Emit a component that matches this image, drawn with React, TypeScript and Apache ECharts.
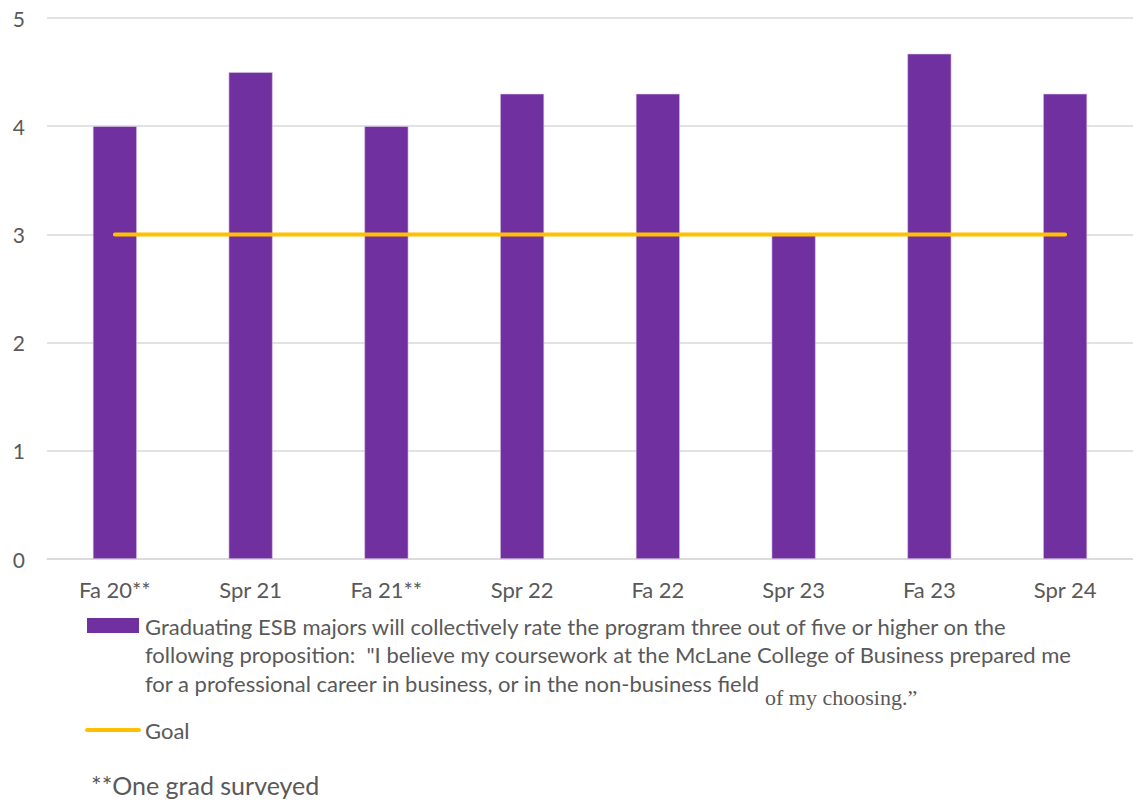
import React, { useEffect, useRef } from "react";
import * as echarts from "echarts";

const categories = ["Fa 20**", "Spr 21", "Fa 21**", "Spr 22", "Fa 22", "Spr 23", "Fa 23", "Spr 24"];
const ratings = [4.0, 4.5, 4.0, 4.3, 4.3, 3.0, 4.67, 4.3];
const goal = [3, 3, 3, 3, 3, 3, 3, 3];
const yTicks = { min: 0, max: 5, interval: 1 };

const legendLines = [
  "Graduating ESB majors will collectively rate the program three out of five or higher on the",
  "following proposition:  \"I believe my coursework at the McLane College of Business prepared me",
  "for a professional career in business, or in the non-business field",
];
const legendTail = "of my choosing.\u201D";
const goalLabel = "Goal";
const footnote = "**One grad surveyed";

const PURPLE = "#7030A0";
const GOLD = "#FFC000";
const TEXT = "#595959";
const SANS = "Lato, 'Open Sans', sans-serif";

export default function App() {
  const ref = useRef<HTMLDivElement>(null);

  useEffect(() => {
    if (!ref.current) return;
    const chart = echarts.init(ref.current, null, { renderer: "svg" });
    const textStyle = { fill: TEXT, font: `22px ${SANS}` };
    chart.setOption({
      animation: false,
      grid: { left: 47, top: 18, width: 1091, height: 541, containLabel: false },
      xAxis: {
        type: "category",
        data: categories,
        boundaryGap: true,
        axisLine: { show: true, lineStyle: { color: "#D9D9D9", width: 1.5 } },
        axisTick: { show: false },
        axisLabel: { color: TEXT, fontSize: 22, fontFamily: SANS, margin: 19 },
      },
      yAxis: {
        type: "value",
        ...yTicks,
        axisLine: { show: false },
        axisTick: { show: false },
        splitLine: { lineStyle: { color: "#D9D9D9", width: 1.5 } },
        axisLabel: { color: TEXT, fontSize: 21, fontFamily: SANS, margin: 22 },
      },
      series: [
        {
          type: "bar",
          data: ratings,
          barWidth: 44,
          itemStyle: { color: PURPLE, borderColor: "#D9C8E6", borderWidth: 0.6 },
          z: 2,
        },
        {
          type: "line",
          data: goal,
          symbol: "none",
          lineStyle: { color: GOLD, width: 4, cap: "round" },
          z: 3,
        },
      ],
      graphic: [
        { type: "rect", shape: { x: 87, y: 618, width: 52, height: 15 }, style: { fill: PURPLE } },
        ...legendLines.map((t, i) => ({
          type: "text",
          x: 145,
          y: 626 + i * 28.5,
          style: { ...textStyle, text: t, verticalAlign: "middle" },
        })),
        {
          type: "text",
          x: 765,
          y: 697,
          style: { fill: TEXT, font: "22px 'Liberation Serif', serif", text: legendTail, verticalAlign: "middle" },
        },
        {
          type: "line",
          shape: { x1: 87, y1: 730, x2: 139, y2: 730 },
          style: { stroke: GOLD, lineWidth: 4, lineCap: "round" },
        },
        {
          type: "text",
          x: 145,
          y: 730,
          style: { ...textStyle, text: goalLabel, verticalAlign: "middle" },
        },
        {
          type: "text",
          x: 91,
          y: 785,
          style: { fill: TEXT, font: `25px ${SANS}`, text: footnote, verticalAlign: "middle" },
        },
      ],
    });
    return () => chart.dispose();
  }, []);

  return (
    <div
      ref={ref}
      style={{ position: "fixed", left: 0, top: 0, width: 1133, height: 801, background: "#fff" }}
    />
  );
}
